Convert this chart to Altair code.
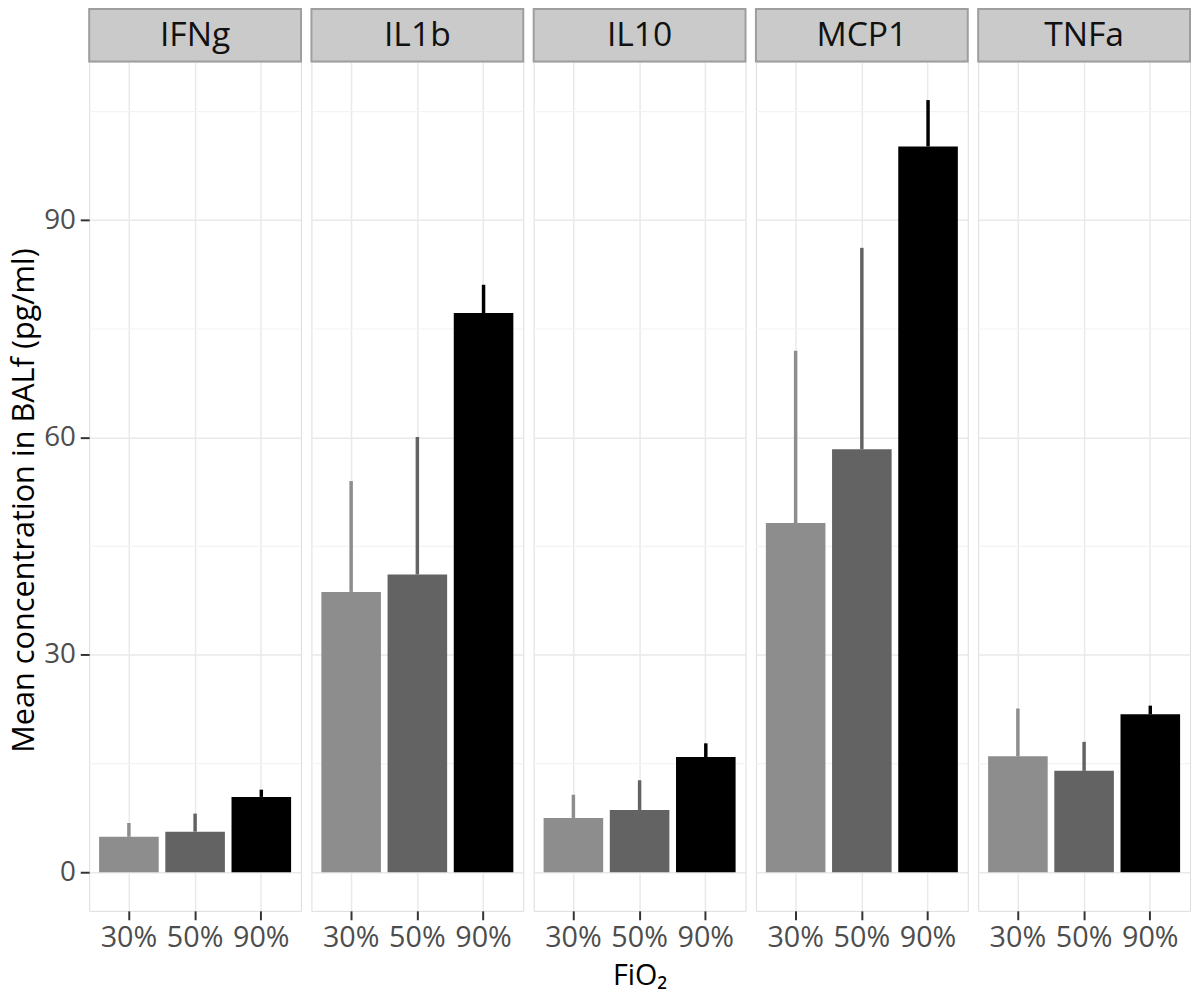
import altair as alt
import pandas as pd

# ---- data ----
cytokines = ["IFNg", "IL1b", "IL10", "MCP1", "TNFa"]
fio2_levels = ["30%", "50%", "90%"]

mean_IFNg = [4.9, 5.6, 10.4]
mean_IL1b = [38.7, 41.1, 77.2]
mean_IL10 = [7.5, 8.6, 15.9]
mean_MCP1 = [48.2, 58.4, 100.2]
mean_TNFa = [16.0, 14.0, 21.8]

upper_IFNg = [6.8, 8.1, 11.4]
upper_IL1b = [54.0, 60.1, 81.1]
upper_IL10 = [10.7, 12.7, 17.8]
upper_MCP1 = [72.0, 86.2, 106.6]
upper_TNFa = [22.6, 18.0, 23.0]

means = [mean_IFNg, mean_IL1b, mean_IL10, mean_MCP1, mean_TNFa]
uppers = [upper_IFNg, upper_IL1b, upper_IL10, upper_MCP1, upper_TNFa]

major_ticks = [0, 30, 60, 90]
minor_ticks = [15, 45, 75, 105]
bar_colors = ["#8d8d8d", "#636363", "#000000"]

FONT = "Open Sans"
W, H = 214, 858
STRIP = 53

# ggplot-like 5% expansion of the y range
top = max(max(u) for u in uppers)
pad = 0.05 * top
y_scale = alt.Scale(domain=[-pad, top + pad], nice=False, zero=False)
x_scale = alt.Scale(domain=fio2_levels, paddingInner=0.1, paddingOuter=0.15)
c_scale = alt.Scale(domain=fio2_levels, range=bar_colors)


def panel(i, name, m, u):
    df = pd.DataFrame({"fio2": fio2_levels, "mean": m, "upper": u})
    if i == 0:
        y_axis = alt.Axis(values=major_ticks, grid=True, gridColor="#e9e9e9", gridWidth=1.5,
                          domain=False, ticks=True, tickSize=9, tickWidth=2, tickColor="#333333",
                          labelFontSize=28, labelFont=FONT, labelColor="#4d4d4d", labelPadding=5,
                          title="Mean concentration in BALf (pg/ml)", titleFont=FONT,
                          titleFontSize=31, titleFontWeight="normal", titleColor="#000000",
                          titlePadding=3, titleY=H / 2 + 14)
    else:
        y_axis = alt.Axis(values=major_ticks, grid=True, gridColor="#e9e9e9", gridWidth=1.5,
                          domain=False, ticks=False, labels=False, title=None)
    x_axis = alt.Axis(grid=True, gridColor="#e9e9e9", gridWidth=1.5, bandPosition=0.5,
                      domain=False, ticks=True, tickSize=9, tickWidth=2, tickColor="#333333",
                      labelFontSize=29, labelFont=FONT, labelColor="#4d4d4d", labelPadding=4,
                      labelAngle=0,
                      title="FiO\u2082" if i == 2 else None, titleFont=FONT, titleFontSize=29,
                      titleFontWeight="normal", titleColor="#000000", titlePadding=9)

    minor = alt.Chart(pd.DataFrame({"v": minor_ticks})).mark_rule(
        color="#f3f3f3", strokeWidth=1.2
    ).encode(y=alt.Y("v:Q", scale=y_scale, axis=y_axis))

    base = alt.Chart(df)
    bars = base.mark_bar().encode(
        x=alt.X("fio2:N", scale=x_scale, axis=x_axis, sort=fio2_levels),
        y=alt.Y("mean:Q", scale=y_scale, axis=y_axis),
        color=alt.Color("fio2:N", scale=c_scale, legend=None),
    )
    err = base.mark_rule(strokeWidth=3.5).encode(
        x=alt.X("fio2:N", scale=x_scale, sort=fio2_levels),
        y=alt.Y("mean:Q", scale=y_scale),
        y2="upper:Q",
        color=alt.Color("fio2:N", scale=c_scale, legend=None),
    )
    strip_df = pd.DataFrame({"label": [name]})
    strip_bg = alt.Chart(strip_df).mark_rect(
        fill="#cacaca", stroke="#9e9e9e", strokeWidth=2
    ).encode(x=alt.value(0), x2=alt.value(W), y=alt.value(-STRIP), y2=alt.value(0))
    strip_txt = alt.Chart(strip_df).mark_text(
        font=FONT, fontSize=34, color="#111111", baseline="middle", align="center"
    ).encode(x=alt.value(W / 2), y=alt.value(-STRIP / 2 + 1), text="label:N")

    return alt.layer(minor, bars, err, strip_bg, strip_txt).properties(width=W, height=H)


panels = [panel(i, n, means[i], uppers[i]) for i, n in enumerate(cytokines)]

chart = alt.hconcat(*panels, spacing=6.5).properties(
    padding={"left": 0, "top": -6, "right": 0, "bottom": 0}
).configure_view(stroke="#9e9e9e", strokeWidth=2).configure(background="#ffffff")

chart.save("out.html", embed_options={"renderer": "svg", "actions": False})
